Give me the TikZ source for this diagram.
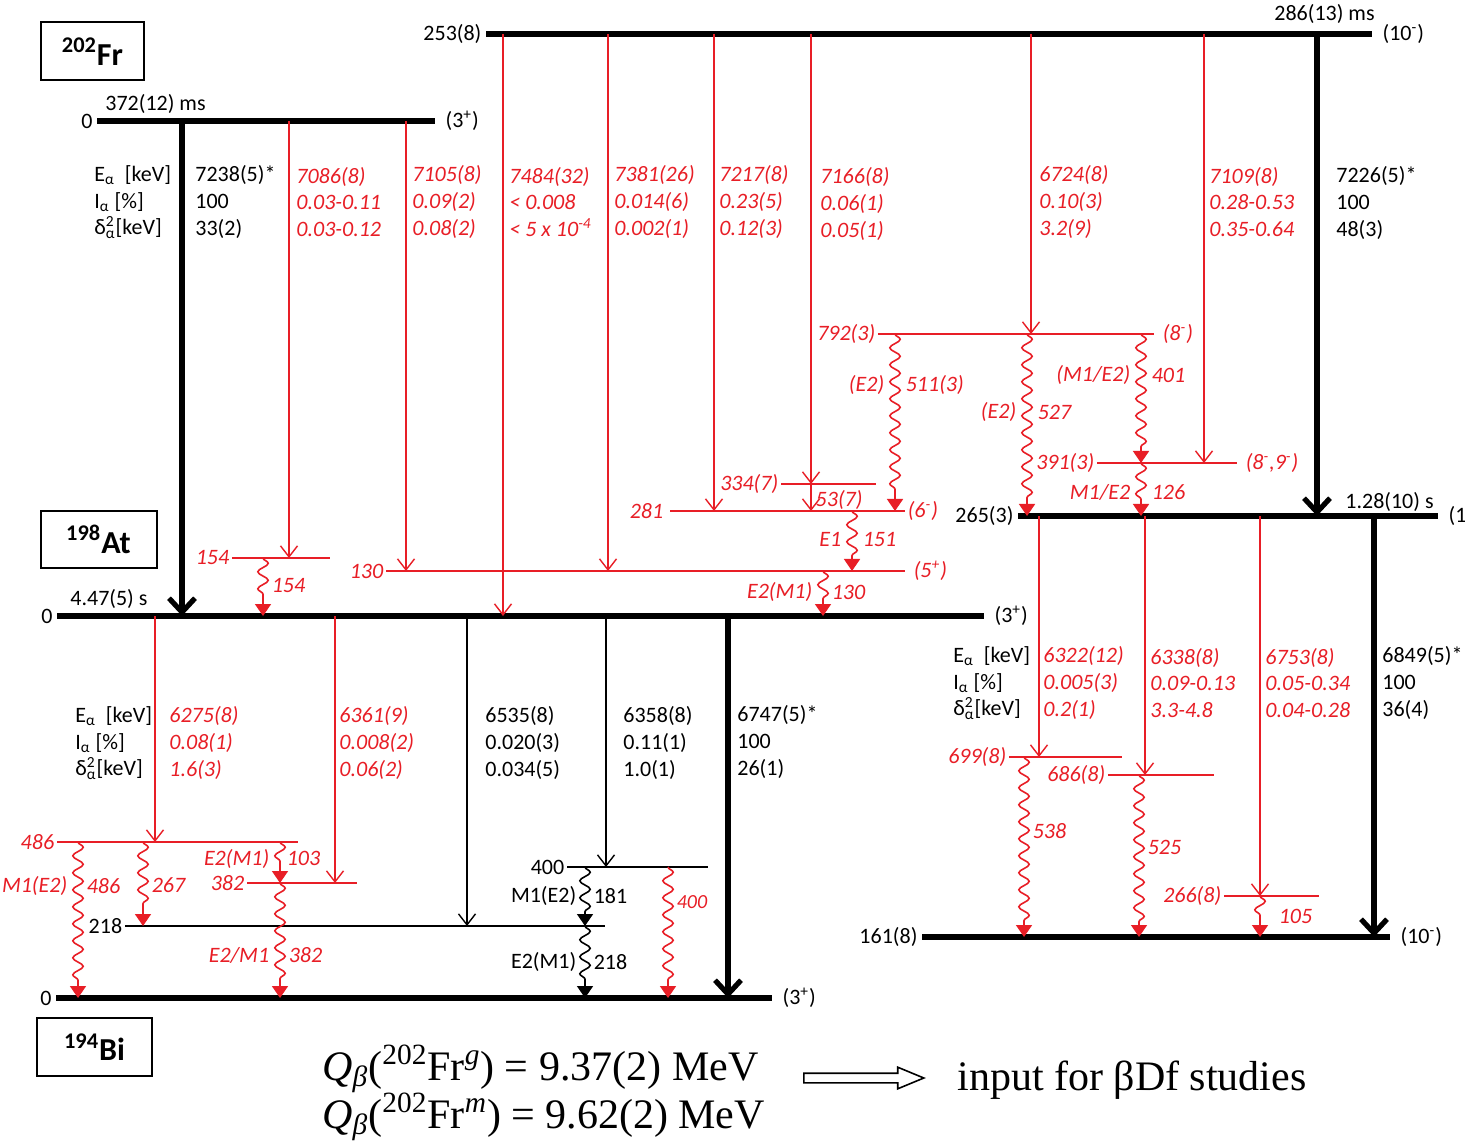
\documentclass[tikz,border=0pt]{standalone}
\usepackage{fontspec}
\setmainfont{Carlito}
\newfontfamily\tnr{Liberation Serif}
\usetikzlibrary{arrows.meta,decorations.pathmorphing,shapes.arrows,positioning}
\definecolor{lred}{RGB}{232,30,38}
\newcommand\fs{\fontsize{11}{13.3}\selectfont}
\newcommand\sps[1]{\textsuperscript{#1}}
\newcommand\lgd{E\textsubscript{α}\ \ [keV]\\I\textsubscript{α} [\%]\\δ\rlap{\textsuperscript{2}}\textsubscript{α}[keV]}

\begin{document}
\begin{tikzpicture}[x=0.5pt,y=-0.5pt,
    every node/.style={font=\fs, inner sep=1pt},
    lv/.style={line width=0.8pt},
    lvt/.style={line width=2.6pt},
    rl/.style={draw=lred, line width=0.8pt},
    rt/.style={text=lred, font=\fs\itshape},
    tab/.style={align=left, anchor=west},
    al/.style={line width=0.7pt, -{Straight Barb[length=5.5pt,width=8.5pt]}},
    ab/.style={line width=2.6pt, -{Straight Barb[length=7pt,width=13pt]}},
    gm/.style={line width=0.8pt, decorate, decoration={snake, amplitude=2.6pt, segment length=8.5pt, post length=7pt}, -{Triangle[length=6pt,width=8pt]}},
    iso/.style={draw, line width=1pt, minimum width=51.5pt, minimum height=29pt, font=\bfseries\fontsize{16}{16}\selectfont}]

    \fill[white] (0,0) rectangle (1465,1143);
    \useasboundingbox (0,0) rectangle (1465,1143);

    \node[iso] (fr) at (92.5,51.5) {\sps{202}Fr};
    \node[iso, minimum width=58pt, minimum height=28.5pt] (at) at (98.5,539.5) {\sps{198}At};
    \node[iso, minimum width=57.5pt] (bi) at (94.5,1047) {\sps{194}Bi};

    % levels
    \draw[lvt] (97,121) coordinate (frg) node[left] (frgE) {0} -- (435,121) node[right=3pt] (frgJ) {(3\sps{+})};
    \node[anchor=base west] (frgT) at (103,111) {372(12) ms};
    \draw[lvt] (486,34) coordinate (frm) node[left] (frmE) {253(8)} -- (1372,34) node[right=3pt] (frmJ) {(10\sps{-})};
    \node[anchor=base east] (frmT) at (1377,21) {286(13) ms};

    \draw[lvt] (57,616) coordinate (at0) node[left] (at0E) {0} -- (984,616) node[right=3pt] (at0J) {(3\sps{+})};
    \node[anchor=base west] (at0T) at (68,605) {4.47(5) s};
    \draw[rl] (232,558) coordinate (at154) node[left,rt] (at154E) {154} -- (330,558);
    \draw[rl] (386,571) coordinate (at130) node[left,rt] (at130E) {130} -- (905,571) node[right=3pt,rt] (at130J) {(5\sps{+})};
    \draw[rl] (670,511) coordinate (at281) node[left=2pt,rt] (at281E) {281} -- (905,511) node[right,rt] (at281J) {(6\sps{-})};
    \draw[rl] (781,484) coordinate (at334) node[left,rt] (at334E) {334(7)} -- (876,484);
    \draw[rl] (878,334) coordinate (at792) node[left,rt] (at792E) {792(3)} -- (1154,334) node[right=3pt,rt] (at792J) {(8\sps{-})};
    \draw[rl] (1097,463) coordinate (at391) node[left,rt] (at391E) {391(3)} -- (1237,463) node[right=3pt,rt] (at391J) {(8\sps{-},9\sps{-})};
    \draw[lvt] (1018,516) coordinate (at265) node[left] (at265E) {265(3)} -- (1438,516) node[right=3pt] (at265J) {(10\sps{-})};
    \node[anchor=base west] (at265T) at (1343,509) {1.28(10) s};

    \draw[lvt] (56,998) coordinate (bi0) node[left] (bi0E) {0} -- (772,998) node[right=3pt] (bi0J) {(3\sps{+})};
    \draw[rl] (57,842) coordinate (bi486) node[left,rt] (bi486E) {486} -- (298,842);
    \draw[rl] (247,883) coordinate (bi382) node[left,rt] (bi382E) {382} -- (357,883);
    \draw[lv] (125,926) coordinate (bi218) node[left] (bi218E) {218} -- (605,926);
    \draw[lv] (567,867) coordinate (bi400) node[left] (bi400E) {400} -- (708,867);
    \draw[rl] (1009,757) coordinate (bi699) node[left,rt] (bi699E) {699(8)} -- (1122,757);
    \draw[rl] (1108,775) coordinate (bi686) node[left,rt] (bi686E) {686(8)} -- (1214,775);
    \draw[rl] (1224,896) coordinate (bi266) node[left,rt] (bi266E) {266(8)} -- (1319,896);
    \draw[lvt] (922,937) coordinate (bi161) node[left] (bi161E) {161(8)} -- (1390,937) node[right=3pt] (bi161J) {(10\sps{-})};

    % alpha lines
    \draw[ab] (182,0 |- frg) -- (182,0 |- at0);
    \draw[al,lred] (289,0 |- frg) -- (289,0 |- at154);
    \draw[al,lred] (406,0 |- frg) -- (406,0 |- at130);
    \draw[al,lred] (503,0 |- frm) -- (503,0 |- at0);
    \draw[al,lred] (608,0 |- frm) -- (608,0 |- at130);
    \draw[al,lred] (714,0 |- frm) -- (714,0 |- at281);
    \draw[al,lred] (811,0 |- frm) -- (811,0 |- at334);
    \draw[al,lred] (1031,0 |- frm) -- (1031,0 |- at792);
    \draw[al,lred] (1204,0 |- frm) -- (1204,0 |- at391);
    \draw[ab] (1317,0 |- frm) -- (1317,0 |- at265);

    \draw[al,lred] (155,0 |- at0) -- (155,0 |- bi486);
    \draw[al,lred] (335,0 |- at0) -- (335,0 |- bi382);
    \draw[al] (467,0 |- at0) -- (467,0 |- bi218);
    \draw[al] (606,0 |- at0) -- (606,0 |- bi400);
    \draw[ab] (728,0 |- at0) -- (728,0 |- bi0);
    \draw[al,lred] (1039,0 |- at265) -- (1039,0 |- bi699);
    \draw[al,lred] (1145,0 |- at265) -- (1145,0 |- bi686);
    \draw[al,lred] (1260,0 |- at265) -- (1260,0 |- bi266);
    \draw[ab] (1374,0 |- at265) -- (1374,0 |- bi161);

    % gamma lines
    \draw[gm,lred] (263,0 |- at154) -- (263,0 |- at0) node[pos=0.47,right=3pt,rt] (g154) {154};
    \draw[al,lred] (811,0 |- at334) -- (811,0 |- at281) node[pos=0.6,right=1pt,rt] (g53) {53(7)};
    \draw[gm,lred] (895,0 |- at792) -- (895,0 |- at281)
        node[pos=0.29,left=4pt,rt] (g511m) {(E2)} node[pos=0.29,right=4pt,rt] (g511) {511(3)};
    \draw[gm,lred] (1027,0 |- at792) -- (1027,0 |- at265)
        node[pos=0.43,left=4pt,rt] (g527m) {(E2)} node[pos=0.43,right=4pt,rt] (g527) {527};
    \draw[gm,lred] (1141,0 |- at792) -- (1141,0 |- at391)
        node[pos=0.32,left=4pt,rt] (g401m) {(M1/E2)} node[pos=0.32,right=4pt,rt] (g401) {401};
    \draw[gm,lred] (1141,0 |- at391) -- (1141,0 |- at265)
        node[pos=0.55,left=4pt,rt] (g126m) {M1/E2} node[pos=0.55,right=4pt,rt] (g126) {126};
    \draw[gm,lred] (852,0 |- at281) -- (852,0 |- at130)
        node[pos=0.48,left=4pt,rt] (g151m) {E1} node[pos=0.48,right=4pt,rt] (g151) {151};
    \draw[gm,lred] (823,0 |- at130) -- (823,0 |- at0)
        node[pos=0.47,left=4pt,rt] (g130m) {E2(M1)} node[pos=0.47,right=3pt,rt] (g130) {130};

    \draw[gm,lred] (78,0 |- bi486) -- (78,0 |- bi0)
        node[pos=0.28,left=4pt,rt] (g486m) {M1(E2)} node[pos=0.28,right=3pt,rt] (g486) {486};
    \draw[gm,lred] (143,0 |- bi486) -- (143,0 |- bi218) node[pos=0.51,right=3pt,rt] (g267) {267};
    \draw[gm,lred] (280,0 |- bi486) -- (280,0 |- bi382)
        node[pos=0.41,left=4pt,rt] (g103m) {E2(M1)} node[pos=0.41,right=2pt,rt] (g103) {103};
    \draw[gm,lred] (280,0 |- bi382) -- (280,0 |- bi0)
        node[pos=0.63,left=4pt,rt] (g382m) {E2/M1} node[pos=0.63,right=3pt,rt] (g382) {382};
    \draw[gm] (585,0 |- bi400) -- (585,0 |- bi218)
        node[pos=0.49,left=3pt] (g181m) {M1(E2)} node[pos=0.49,right=3pt] (g181) {181};
    \draw[gm] (585,0 |- bi218) -- (585,0 |- bi0)
        node[pos=0.5,left=3pt] (g218m) {E2(M1)} node[pos=0.5,right=3pt] (g218) {218};
    \draw[gm,lred] (668,0 |- bi400) -- (668,0 |- bi0)
        node[pos=0.27,right=3pt,rt,font=\fontsize{10}{12}\selectfont\itshape] (g400) {400};
    \draw[gm,lred] (1024,0 |- bi699) -- (1024,0 |- bi161) node[pos=0.41,right=3pt,rt] (g538) {538};
    \draw[gm,lred] (1139,0 |- bi686) -- (1139,0 |- bi161) node[pos=0.45,right=3pt,rt] (g525) {525};
    \draw[gm,lred] (1260,0 |- bi266) -- (1260,0 |- bi161) node[pos=0.51,right=8pt,rt] (g105) {105};

    % alpha data
    \node[tab] (lgdFr) at (92,202) {\lgd};
    \node[tab] (aFrg) at (193,202) {7238(5)*\\100\\33(2)};
    \node[tab,rt] (aFr1) at (294,202) {7086(8)\\0.03-0.11\\0.03-0.12};
    \node[tab,rt] (aFr2) at (410,202) {7105(8)\\0.09(2)\\0.08(2)};
    \node[tab,rt] (aFm1) at (507,202) {7484(32)\\< 0.008\\< 5 x 10\sps{-4}};
    \node[tab,rt] (aFm2) at (612,202) {7381(26)\\0.014(6)\\0.002(1)};
    \node[tab,rt] (aFm3) at (717,202) {7217(8)\\0.23(5)\\0.12(3)};
    \node[tab,rt] (aFm4) at (818,204) {7166(8)\\0.06(1)\\0.05(1)};
    \node[tab,rt] (aFm5) at (1037,202) {6724(8)\\0.10(3)\\3.2(9)};
    \node[tab,rt] (aFm6) at (1207,202) {7109(8)\\0.28-0.53\\0.35-0.64};
    \node[tab] (aFmg) at (1334,203) {7226(5)*\\100\\48(3)};

    \node[tab] (lgdAt) at (73,743) {\lgd};
    \node[tab,rt] (aAt1) at (167,743) {6275(8)\\0.08(1)\\1.6(3)};
    \node[tab,rt] (aAt2) at (337,743) {6361(9)\\0.008(2)\\0.06(2)};
    \node[tab] (aAt3) at (483,743) {6535(8)\\0.020(3)\\0.034(5)};
    \node[tab] (aAt4) at (621,743) {6358(8)\\0.11(1)\\1.0(1)};
    \node[tab] (aAtg) at (735,742) {6747(5)*\\100\\26(1)};

    \node[tab] (lgdAm) at (951,683) {\lgd};
    \node[tab,rt] (aAm1) at (1041,683) {6322(12)\\0.005(3)\\0.2(1)};
    \node[tab,rt] (aAm2) at (1148,683) {6338(8)\\0.09-0.13\\3.3-4.8};
    \node[tab,rt] (aAm3) at (1263,683) {6753(8)\\0.05-0.34\\0.04-0.28};
    \node[tab] (aAmg) at (1380,683) {6849(5)*\\100\\36(4)};

    % Q values
    \node[anchor=base west, font=\tnr\fontsize{21}{24}\selectfont] (qg) at (320,1080)
        {\textit{Q}\textsubscript{\textit{β}}(\sps{202}Fr\sps{\textit{g}}) = 9.37(2) MeV};
    \node[anchor=base west, font=\tnr\fontsize{21}{24}\selectfont] (qm) at (320,1128)
        {\textit{Q}\textsubscript{\textit{β}}(\sps{202}Fr\sps{\textit{m}}) = 9.62(2) MeV};
    \node[single arrow, draw, line width=0.8pt, minimum height=60pt, inner sep=2pt,
        single arrow head extend=3pt, single arrow tip angle=45] (arr) at (858,1078) {};
    \node[anchor=base west, font=\tnr\fontsize{21}{24}\selectfont] (inp) at (955,1090) {input for βDf studies};
\end{tikzpicture}
\end{document}
